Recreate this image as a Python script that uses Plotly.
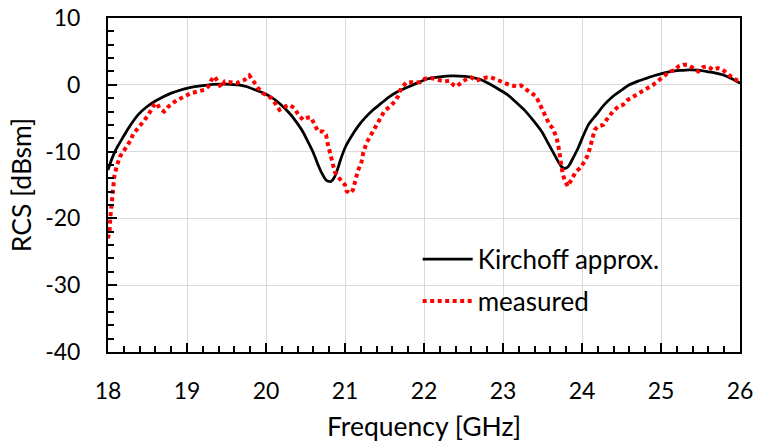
import plotly.graph_objects as go

# Kirchoff approximation
kir_freq = [18.00, 18.03, 18.06, 18.10, 18.17, 18.27, 18.38, 18.48, 18.59, 18.70, 18.80, 18.90,
            19.01, 19.12, 19.22, 19.33, 19.44, 19.55, 19.65, 19.76, 19.86, 19.95,
            20.03, 20.11, 20.19, 20.30, 20.41, 20.47, 20.53, 20.60, 20.66, 20.71, 20.76, 20.79,
            20.815, 20.84, 20.87, 20.91, 20.95, 21.01, 21.08, 21.16, 21.25, 21.35, 21.46,
            21.56, 21.67, 21.78, 21.88, 21.96, 22.05, 22.20, 22.35, 22.52, 22.68, 22.77, 22.85,
            22.95, 23.06, 23.16, 23.27, 23.38, 23.49, 23.56, 23.63, 23.69, 23.74, 23.78,
            23.81, 23.84, 23.89, 23.95, 24.01, 24.08, 24.18, 24.28, 24.39, 24.50, 24.60, 24.71,
            24.82, 24.92, 25.03, 25.13, 25.24, 25.36, 25.47, 25.57, 25.68, 25.78, 25.89, 26.00]
kir_rcs = [-12.75, -11.7, -10.75, -9.7, -8.25, -6.3, -4.5, -3.4, -2.5, -1.8, -1.25, -0.85,
           -0.5, -0.25, -0.1, 0.05, 0.1, 0.08, 0.0, -0.3, -0.75, -1.15,
           -1.6, -2.2, -3.0, -4.3, -6.0, -7.1, -8.5, -10.2, -12.0, -13.3, -14.25, -14.45,
           -14.5, -14.3, -13.75, -12.5, -11.0, -9.2, -7.75, -6.3, -5.0, -3.8, -2.75,
           -1.8, -1.0, -0.4, 0.1, 0.5, 0.9, 1.2, 1.35, 1.25, 0.9, 0.5, 0.0,
           -0.7, -1.5, -2.55, -3.75, -5.3, -7.0, -8.5, -10.0, -11.3, -12.25, -12.5,
           -12.4, -12.0, -10.9, -9.5, -7.8, -6.0, -4.5, -3.0, -1.75, -0.8, 0.0, 0.55,
           1.0, 1.4, 1.75, 2.0, 2.15, 2.25, 2.2, 2.0, 1.8, 1.5, 0.95, 0.25]

# Measured
meas_freq = [18.00, 18.02, 18.03, 18.04, 18.05, 18.06, 18.07, 18.08, 18.11, 18.13, 18.15, 18.17,
             18.21, 18.25, 18.29, 18.32, 18.38, 18.44, 18.50, 18.55, 18.59, 18.62, 18.65, 18.71,
             18.76, 18.82, 18.88, 18.97, 19.05, 19.14, 19.22, 19.27, 19.31, 19.35, 19.39, 19.43,
             19.48, 19.56, 19.63, 19.69, 19.73, 19.79, 19.84, 19.90, 19.96, 20.03, 20.07, 20.13,
             20.17, 20.24, 20.30, 20.36, 20.41, 20.47, 20.53, 20.57, 20.62, 20.66, 20.72, 20.76,
             20.78, 20.81, 20.83, 20.85, 20.87, 20.91, 20.95, 21.00, 21.02, 21.06, 21.10, 21.12,
             21.16, 21.21, 21.23, 21.27, 21.33, 21.38, 21.42, 21.46, 21.50, 21.57, 21.63, 21.67,
             21.71, 21.78, 21.86, 21.95, 22.01, 22.09, 22.18, 22.26, 22.32, 22.37, 22.41, 22.47,
             22.54, 22.60, 22.66, 22.73, 22.79, 22.85, 22.92, 23.00, 23.08, 23.17, 23.23, 23.30,
             23.36, 23.42, 23.46, 23.51, 23.55, 23.59, 23.63, 23.68, 23.71, 23.72, 23.74, 23.76,
             23.78, 23.82, 23.86, 23.91, 23.95, 23.99, 24.03, 24.07, 24.10, 24.13, 24.16, 24.20,
             24.27, 24.31, 24.35, 24.39, 24.46, 24.52, 24.58, 24.65, 24.73, 24.82, 24.90, 24.98,
             25.05, 25.11, 25.17, 25.22, 25.28, 25.34, 25.41, 25.47, 25.53, 25.59, 25.66, 25.72,
             25.78, 25.85, 25.91, 25.97, 26.00]
meas_rcs = [-23.0, -21.8, -19.8, -18.3, -17.2, -16.1, -14.9, -13.7, -12.2, -11.4, -10.8, -10.4,
            -9.8, -9.0, -8.2, -7.3, -6.5, -5.7, -4.7, -3.7, -2.9, -2.75, -3.5, -4.0,
            -3.3, -2.75, -2.25, -1.75, -1.25, -1.0, -0.75, -0.25, 0.75, 1.25, 0.5, -0.4,
            0.5, 0.4, 0.25, 0.6, 0.75, 1.4, 0.5, -0.5, -1.25, -1.7, -2.0, -3.0,
            -3.75, -3.25, -3.0, -3.5, -4.5, -5.25, -4.9, -4.9, -6.0, -7.0, -7.0, -7.5,
            -8.75, -10.0, -11.0, -12.0, -13.0, -13.75, -14.25, -15.0, -15.9, -16.25, -15.75, -14.75,
            -13.0, -11.5, -10.25, -8.75, -7.5, -6.5, -5.75, -4.75, -3.9, -3.25, -2.5, -1.75,
            -0.5, 0.4, 0.4, 0.4, 0.9, 1.0, 0.75, 0.5, 0.6, 0.0, -0.25, 0.25,
            0.9, 1.1, 0.6, 0.9, 1.1, 1.1, 0.75, 0.5, 0.0, -0.25, -0.1, -0.75,
            -1.25, -1.75, -2.75, -4.0, -5.0, -6.0, -6.5, -8.0, -9.75, -11.0, -12.25, -13.5,
            -14.25, -15.2, -14.25, -13.25, -12.75, -12.25, -11.5, -10.6, -9.5, -7.75, -6.75, -6.25,
            -6.0, -5.25, -4.5, -4.0, -3.25, -3.0, -2.25, -1.75, -1.25, -0.65, 0.0, 0.75,
            1.35, 2.0, 2.15, 2.75, 3.0, 3.0, 2.5, 2.0, 2.65, 2.75, 2.25, 2.5,
            2.25, 1.5, 1.0, 0.65, 0.6]

x_ticks = [18, 19, 20, 21, 22, 23, 24, 25, 26]
y_ticks = [10, 0, -10, -20, -30, -40]

FONT = "Lato, Calibri, Carlito, sans-serif"

fig = go.Figure()
fig.add_trace(go.Scatter(
    x=kir_freq, y=kir_rcs, mode="lines", name="Kirchoff approx.",
    line=dict(color="black", width=2.75, shape="spline", smoothing=0.6),
    legendgroup="a",
))
fig.add_trace(go.Scatter(
    x=meas_freq, y=meas_rcs, mode="lines", name="measured",
    line=dict(color="#ff0000", width=4, dash="4px,3.5px"),
    legendgroup="b",
))

fig.update_layout(
    width=758, height=448,
    margin=dict(l=108, r=18, t=18, b=96),
    paper_bgcolor="white", plot_bgcolor="white",
    font=dict(family=FONT, size=23, color="black"),
    showlegend=True,
    legend=dict(x=0.49, y=0.215, xanchor="left", yanchor="middle",
                bgcolor="rgba(0,0,0,0)", font=dict(size=26),
                tracegroupgap=5, itemwidth=50),
    xaxis=dict(
        range=[18, 26], tickvals=x_ticks, ticktext=[str(v) for v in x_ticks],
        showgrid=True, gridcolor="#d9d9d9", gridwidth=1,
        showline=True, linecolor="black", linewidth=2, mirror=True,
        ticks="inside", ticklen=9, tickwidth=1.5, tickcolor="black",
        minor=dict(dtick=0.2, ticks="inside", ticklen=6, tickwidth=1.5,
                   tickcolor="black", showgrid=False),
        ticklabelstandoff=17, ticklabeloverflow="allow",
        zeroline=False, automargin=False,
        title=dict(text="Frequency [GHz]", standoff=15, font=dict(size=26.5)),
    ),
    yaxis=dict(
        range=[-40, 10], tickvals=y_ticks, ticktext=[str(v) for v in y_ticks],
        showgrid=True, gridcolor="#d9d9d9", gridwidth=1,
        showline=True, linecolor="black", linewidth=2, mirror=True,
        ticks="inside", ticklen=9, tickwidth=1.5, tickcolor="black",
        minor=dict(dtick=2, ticks="inside", ticklen=6, tickwidth=1.5,
                   tickcolor="black", showgrid=False),
        ticklabelstandoff=21, ticklabeloverflow="allow",
        zeroline=False, automargin=False,
        title=dict(text="RCS [dBsm]", standoff=6, font=dict(size=26.5)),
    ),
)

fig.write_html(
    "out.html",
    config={"displayModeBar": False},
    post_script="document.body.style.margin='0';document.body.style.overflow='hidden';",
)
